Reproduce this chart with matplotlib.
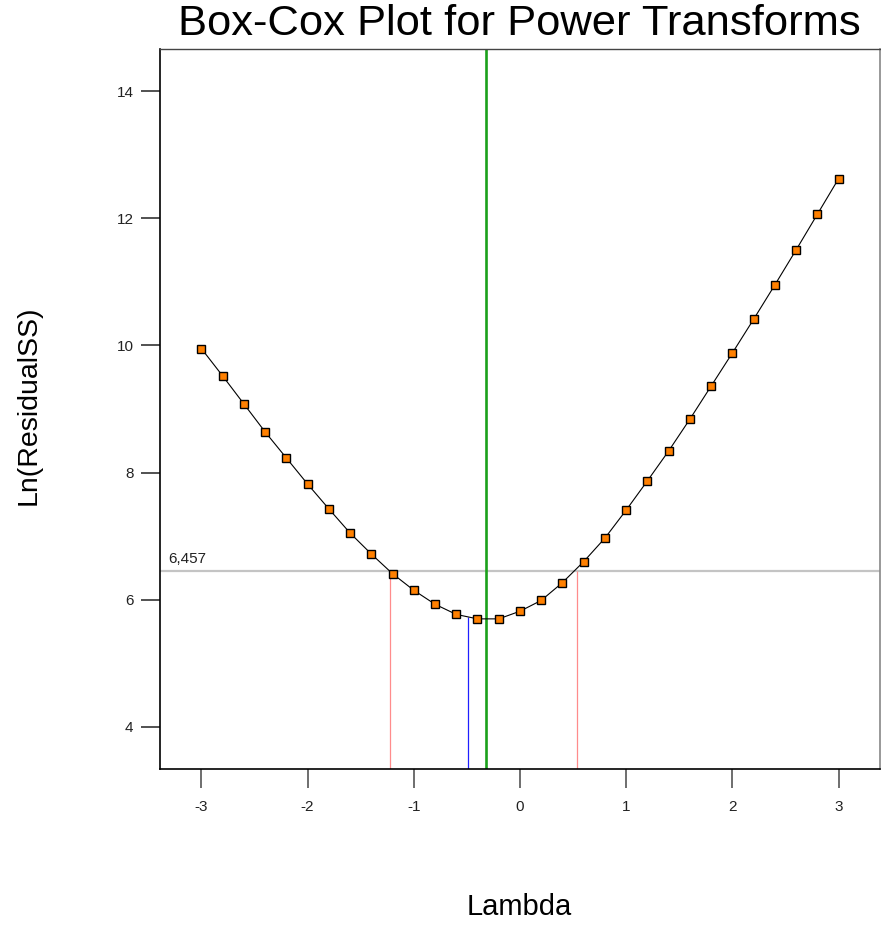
import numpy as np
import matplotlib.pyplot as plt

# --- data ------------------------------------------------------------------
lambdas = [-3.0, -2.8, -2.6, -2.4, -2.2, -2.0, -1.8, -1.6, -1.4, -1.2, -1.0,
           -0.8, -0.6, -0.4, -0.2, 0.0, 0.2, 0.4, 0.6, 0.8, 1.0,
           1.2, 1.4, 1.6, 1.8, 2.0, 2.2, 2.4, 2.6, 2.8, 3.0]
ln_rss = [9.95, 9.52, 9.08, 8.64, 8.23, 7.82, 7.43, 7.05, 6.72, 6.41, 6.15,
          5.93, 5.77, 5.70, 5.70, 5.82, 5.99, 6.27, 6.60, 6.97, 7.41,
          7.87, 8.34, 8.84, 9.36, 9.88, 10.41, 10.95, 11.50, 12.06, 12.62]

best_lambda = -0.32          # green line
rounded_lambda = -0.49       # blue line
rounded_value = 5.73
ci_lambda = [-1.22, 0.54]    # red lines
ci_level = 6.457             # grey horizontal line
ci_label = '6,457'

x_ticks = [-3, -2, -1, 0, 1, 2, 3]
y_ticks = [4, 6, 8, 10, 12, 14]
xlim = (-3.39, 3.39)
ylim = (3.34, 14.66)

plt.rcParams['font.family'] = ['Liberation Sans', 'DejaVu Sans']
plt.rcParams['axes.unicode_minus'] = False

fig = plt.figure(figsize=(8.81, 9.34), dpi=100)
ax = fig.add_axes([0.1816, 0.1767, 0.8172, 0.7708])

ax.set_xlim(*xlim)
ax.set_ylim(*ylim)

# reference lines
ax.axhline(ci_level, color='#c4c4c4', lw=1.6, zorder=1)
ax.vlines(ci_lambda, ylim[0], ci_level, color='#ff8c8c', lw=0.9, zorder=1)
ax.vlines(rounded_lambda, ylim[0], rounded_value, color='#2020ff', lw=0.9, zorder=1)
ax.axvline(best_lambda, color='#1ba01b', lw=1.9, zorder=2)

# curve
ax.plot(lambdas, ln_rss, color='black', lw=0.8, zorder=3,
        marker='s', markersize=5.3, markerfacecolor='#ff8000',
        markeredgecolor='black', markeredgewidth=1.0)

ax.text(xlim[0] + 0.08, ci_level + 0.08, ci_label,
        fontsize=11, color='#222222', ha='left', va='bottom')

ax.set_xticks(x_ticks)
ax.set_yticks(y_ticks)
ax.tick_params(axis='x', length=14, width=1.2, color='#555555', pad=8,
               labelsize=11, labelcolor='#222222')
ax.tick_params(axis='y', length=14, width=1.2, color='#333333', pad=5,
               labelsize=11, labelcolor='#222222')

for side in ['left', 'bottom']:
    ax.spines[side].set_color('black')
    ax.spines[side].set_linewidth(1.2)
ax.spines['top'].set_color('#444444')
ax.spines['top'].set_linewidth(1.0)
ax.spines['right'].set_color('#888888')
ax.spines['right'].set_linewidth(1.2)

fig.text(0.5896, 0.974, 'Box-Cox Plot for Power Transforms', fontsize=31.3,
         ha='center', va='center', color='black')
fig.text(0.5896, 0.029, 'Lambda', fontsize=21, ha='center', va='center')
fig.text(0.032, 0.566, 'Ln(ResidualSS)', fontsize=20.5, ha='center',
         va='center', rotation=90)

fig.savefig('out.png', dpi=100)
